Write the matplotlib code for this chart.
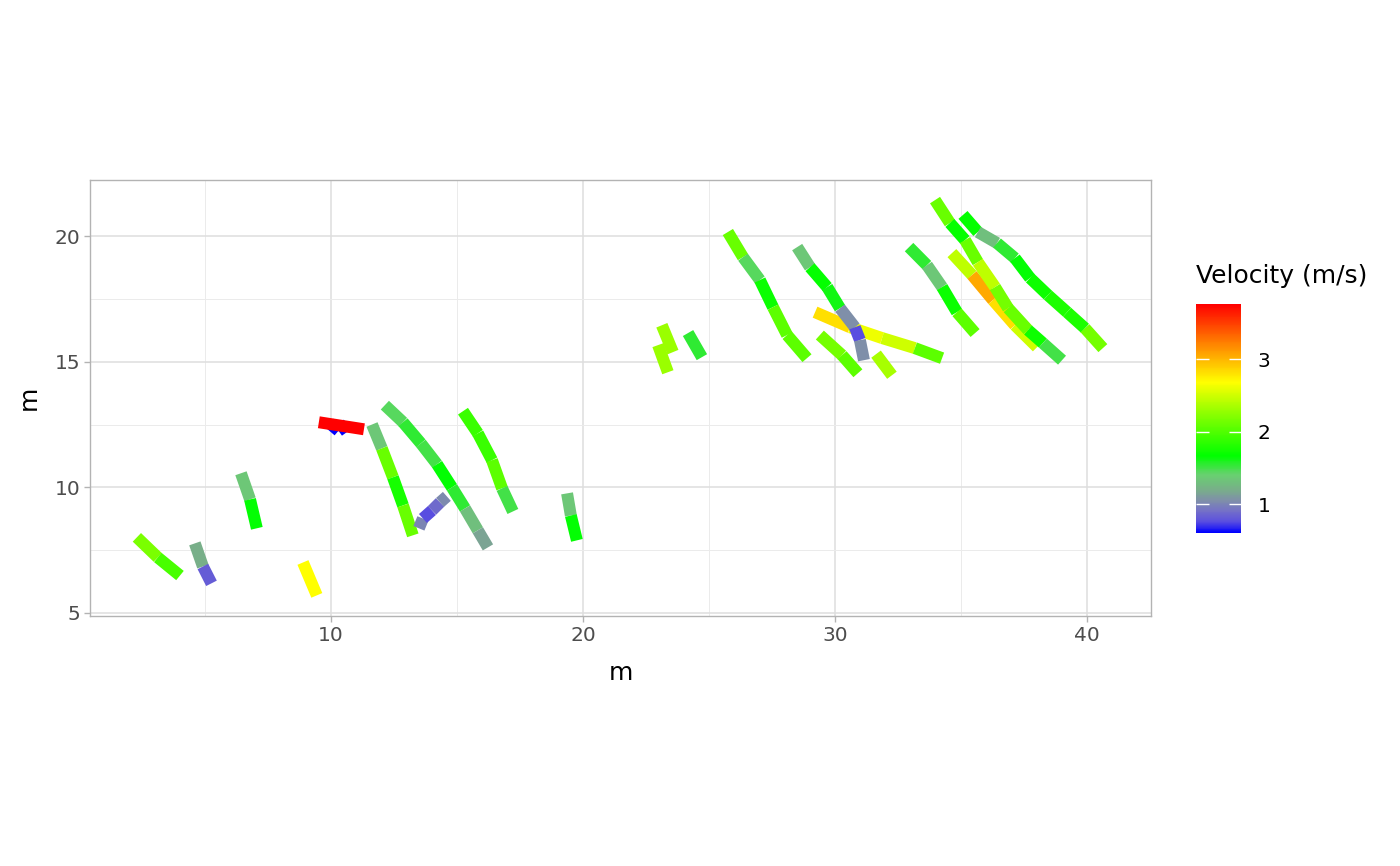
import numpy as np
import matplotlib
matplotlib.use("Agg")
import matplotlib.pyplot as plt
from matplotlib.collections import LineCollection
from matplotlib.colors import LinearSegmentedColormap, Normalize
from matplotlib.ticker import MultipleLocator

# tracks: id, position (m) and velocity (m/s) of the segment starting at each point
track = ["a"] * 3 + ["b"] * 3 + ["c"] * 3 + ["d"] * 2 + ["blue"] * 3 + ["red"] * 2 \
    + ["e"] * 5 + ["f"] * 5 + ["g"] * 8 + ["h"] * 5 + ["i"] * 3 + ["j1"] * 2 + ["j2"] * 2 \
    + ["k"] * 2 + ["l"] * 6 + ["n"] * 5 + ["m"] * 7 + ["o"] * 3 + ["p"] * 2 + ["q"] * 5 \
    + ["t"] * 5 + ["r"] * 9 + ["s"] * 9

pos_x = [2.30, 3.13, 4.01,
         4.60, 4.92, 5.26,
         6.43, 6.79, 7.06,
         8.89, 9.44,
         9.95, 10.30, 10.65,
         9.52, 11.31,
         11.63, 12.02, 12.46, 12.86, 13.25,
         13.49, 13.65, 14.01, 14.33, 14.60,
         12.14, 12.86, 13.57, 14.21, 14.80, 15.32, 15.83, 16.23,
         15.24, 15.83, 16.39, 16.79, 17.22,
         19.37, 19.52, 19.76,
         23.13, 23.57,
         22.98, 23.37,
         24.17, 24.72,
         25.75, 26.35, 27.02, 27.54, 28.10, 28.89,
         29.21, 30.60, 31.87, 33.17, 34.25,
         28.50, 29.01, 29.69, 30.20, 30.79, 30.99, 31.15,
         29.40, 30.28, 30.91,
         31.63, 32.26,
         32.94, 33.65, 34.25, 34.84, 35.56,
         34.64, 35.44, 36.27, 37.14, 38.02,
         33.97, 34.56, 35.16, 35.67, 36.35, 36.87, 37.66, 38.25, 39.01,
         35.08, 35.67, 36.43, 37.14, 37.74, 38.45, 39.21, 39.92, 40.63]

pos_y = [8.01, 7.21, 6.49,
         7.77, 6.85, 6.18,
         10.56, 9.52, 8.37,
         7.01, 5.70,
         12.55, 12.25, 12.50,
         12.59, 12.31,
         12.50, 11.55, 10.40, 9.28, 8.09,
         8.37, 8.76, 9.08, 9.40, 9.64,
         13.27, 12.59, 11.75, 10.92, 10.00, 9.16, 8.29, 7.61,
         13.03, 12.15, 11.08, 9.96, 9.04,
         9.76, 8.88, 7.89,
         16.45, 15.38,
         15.66, 14.58,
         16.14, 15.18,
         20.16, 19.16, 18.25, 17.17, 16.06, 15.14,
         16.97, 16.37, 15.94, 15.54, 15.14,
         19.56, 18.76, 17.97, 17.13, 16.37, 15.86, 15.06,
         16.06, 15.26, 14.54,
         15.30, 14.46,
         19.56, 18.84, 17.97, 16.97, 16.14,
         19.32, 18.45, 17.45, 16.45, 15.58,
         21.43, 20.52, 19.84, 18.96, 17.97, 17.13, 16.26, 15.74, 15.06,
         20.84, 20.16, 19.72, 19.12, 18.33, 17.65, 16.97, 16.33, 15.54]

velocity = [2.17, 1.96, np.nan,
            1.20, 0.82, np.nan,
            1.35, 1.65, np.nan,
            2.68, np.nan,
            0.60, 0.60, np.nan,
            3.76, np.nan,
            1.35, 2.10, 1.75, 2.10, np.nan,
            1.00, 0.75, 0.88, 1.02, np.nan,
            1.45, 1.55, 1.50, 1.66, 1.55, 1.30, 1.15, np.nan,
            1.90, 1.90, 2.05, 1.50, np.nan,
            1.35, 1.66, np.nan,
            2.30, np.nan,
            2.30, np.nan,
            1.55, np.nan,
            2.10, 1.45, 1.70, 2.05, 2.05, np.nan,
            2.82, 2.62, 2.50, 2.05, np.nan,
            1.35, 1.68, 1.62, 1.05, 0.75, 1.05, np.nan,
            2.15, 2.05, np.nan,
            2.35, np.nan,
            1.55, 1.35, 1.70, 2.05, np.nan,
            2.43, 3.05, 2.82, 2.50, np.nan,
            2.10, 1.68, 2.10, 2.43, 2.15, 2.10, 1.72, 1.50, np.nan,
            1.68, 1.30, 1.55, 1.66, 1.72, 1.78, 1.78, 2.15, np.nan]

v_min, v_max = 0.6, 3.76
stops = [(0.60, "#0000ff"), (0.75, "#5a4ee0"), (0.90, "#7470c8"), (1.05, "#7f90a8"),
         (1.20, "#78b088"), (1.40, "#68d070"), (1.66, "#00ff00"), (2.20, "#80ff00"),
         (2.68, "#ffff00"), (3.05, "#ffaa00"), (3.76, "#ff0000")]
cmap = LinearSegmentedColormap.from_list(
    "vel", [((v - v_min) / (v_max - v_min), c) for v, c in stops])
norm = Normalize(v_min, v_max)

fig = plt.figure(figsize=(14, 8.66), dpi=100)
ax = fig.add_axes([90 / 1400, 1 - 616 / 866, 1061 / 1400, 436 / 866])

pos_x = np.array(pos_x)
pos_y = np.array(pos_y)
velocity = np.array(velocity)
track = np.array(track)
order = list(dict.fromkeys(track))
for t in order:
    idx = np.where(track == t)[0]
    pts = np.column_stack([pos_x[idx], pos_y[idx]])
    segs = np.stack([pts[:-1], pts[1:]], axis=1)
    lc = LineCollection(segs, cmap=cmap, norm=norm, linewidths=8.6,
                        capstyle="butt", joinstyle="miter", zorder=3)
    lc.set_array(velocity[idx][:-1])
    ax.add_collection(lc)

ax.set_xlim(0.44, 42.54)
ax.set_ylim(4.88, 22.23)
ax.xaxis.set_major_locator(MultipleLocator(10))
ax.xaxis.set_minor_locator(MultipleLocator(5))
ax.yaxis.set_major_locator(MultipleLocator(5))
ax.yaxis.set_minor_locator(MultipleLocator(2.5))
ax.grid(which="major", color="#dedede", linewidth=1.1)
ax.grid(which="minor", color="#ebebeb", linewidth=0.7)
ax.set_axisbelow(True)
for sp in ax.spines.values():
    sp.set_color("#b3b3b3")
    sp.set_linewidth(1.0)
ax.tick_params(which="major", color="#b3b3b3", length=4, width=1,
               labelsize=14.5, labelcolor="#4d4d4d", pad=3)
ax.tick_params(which="minor", length=0)
ax.set_xlabel("m", fontsize=18, labelpad=12)
ax.set_ylabel("m", fontsize=18, labelpad=10)

cax = fig.add_axes([1196 / 1400, 1 - 533 / 866, 45 / 1400, 229 / 866])
sm = plt.cm.ScalarMappable(norm=norm, cmap=cmap)
cb = fig.colorbar(sm, cax=cax, ticks=[1, 2, 3])
cb.outline.set_visible(False)
cax.tick_params(which="both", left=True, right=True, labelleft=False, labelright=True,
                direction="in", color="white", length=9, width=1,
                labelsize=14.5, pad=12)
cax.minorticks_off()
fig.text(1196 / 1400, 1 - 276 / 866, "Velocity (m/s)", fontsize=18,
         ha="left", va="center")

fig.savefig("out.png", dpi=100)
